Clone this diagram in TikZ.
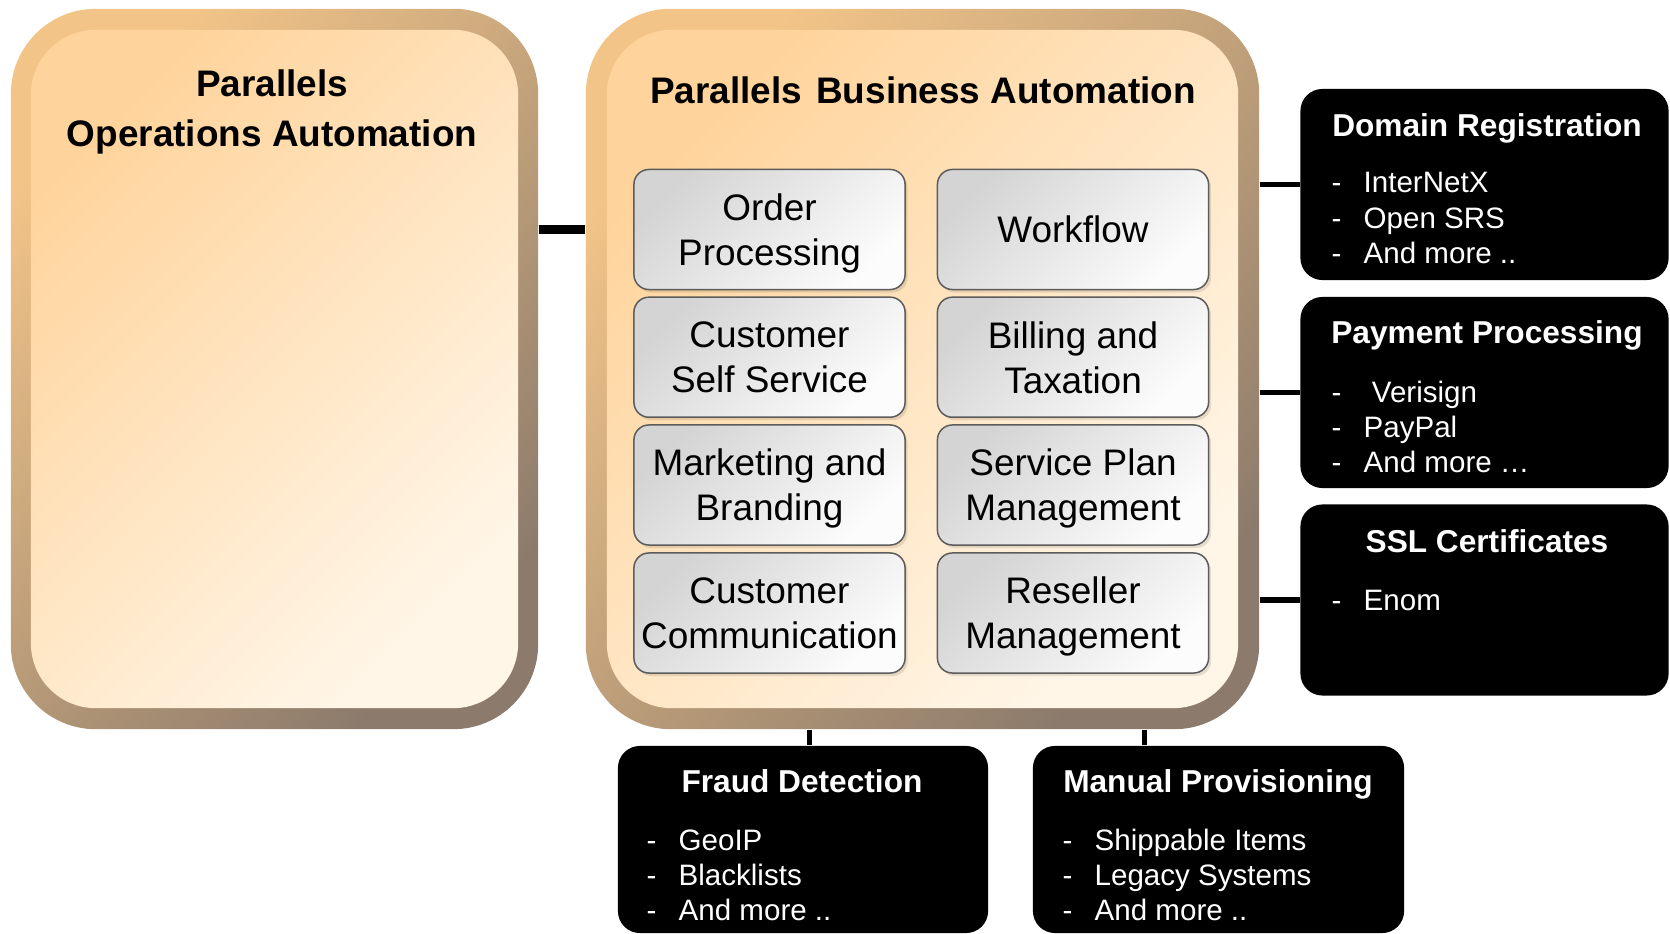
\documentclass[tikz,border=0pt]{standalone}
\usepackage{fontspec}
\setmainfont{Liberation Sans}
\usetikzlibrary{positioning,shadows}

\definecolor{ringtop}{HTML}{F2C488}
\definecolor{ringbot}{HTML}{8C7B6C}
\definecolor{paneltop}{HTML}{FFD49C}
\definecolor{panelbot}{HTML}{FFF6E8}
\definecolor{tiletop}{HTML}{D4D4D4}
\definecolor{tilebot}{HTML}{FCFCFC}
\definecolor{tileline}{HTML}{5C5C5C}

\tikzset{
  ring/.style={rounded corners=0.85cm, top color=ringtop, bottom color=ringbot, shading angle=45, inner sep=0},
  panel/.style={rounded corners=0.65cm, top color=paneltop, bottom color=panelbot, shading angle=45, inner sep=0},
  tile/.style={draw=tileline, line width=0.015cm, rounded corners=0.15cm, top color=tiletop, bottom color=tilebot, shading angle=45,
    minimum width=2.71cm, minimum height=1.2cm, inner sep=0.03cm, text depth=0pt, align=center, font=\fontsize{10.5}{12.8}\selectfont,
    drop shadow={shadow xshift=0.025cm, shadow yshift=-0.03cm, fill=black, opacity=0.1}},
  bigtitle/.style={align=center, font=\fontsize{10.5}{14.2}\selectfont\bfseries},
  blackbox/.style={fill=black, rounded corners=0.22cm, inner sep=0},
  head/.style={text=white, text depth=0pt, font=\fontsize{9}{10}\selectfont\bfseries},
  items/.style={text=white, align=left, inner sep=0, anchor=west, font=\fontsize{8.4}{9.96}\selectfont},
  link/.style={line width=0.05cm},
}
\newcommand{\itm}[1]{\makebox[0.32cm][l]{-}#1}

\begin{document}
\begin{tikzpicture}[x=0.01cm, y=-0.01cm]
  \useasboundingbox (0,0) rectangle (1670,934);

  % operations automation
  \node[ring, minimum width=5.27cm, minimum height=7.2cm] (poa) at (274.5,369) {};
  \node[panel, minimum width=4.87cm, minimum height=6.78cm] (poain) at (poa) {};
  \node[bigtitle] (poatitle) at (272,112) {Parallels\\Operations Automation};

  % business automation
  \node[ring, minimum width=6.73cm, minimum height=7.2cm] (pba) at (922.5,369) {};
  \node[panel, minimum width=6.31cm, minimum height=6.78cm] (pbain) at (pba) {};
  \node[bigtitle] (pbatitle) at (923,90) {Parallels\hspace{0.04cm} Business Automation};

  \node[tile] (order) at (769.5,229.5) {Order\\Processing};
  \node[tile] (workflow) at (1073,229.5) {Workflow};
  \node[tile] (selfserv) at (769.5,357.2) {Customer\\Self Service};
  \node[tile] (billing) at (1073,357.2) {Billing and\\Taxation};
  \node[tile] (marketing) at (769.5,485) {Marketing and\\Branding};
  \node[tile] (plans) at (1073,485) {Service Plan\\Management};
  \node[tile] (commun) at (769.5,613) {Customer\\Communication};
  \node[tile] (reseller) at (1073,613) {Reseller\\Management};

  % plug-ins on the right
  \node[blackbox, minimum width=3.68cm, minimum height=1.91cm] (domain) at (1484.5,184.5) {};
  \node[head] (domainhead) at (1487,125) {Domain Registration};
  \node[items] (domainlist) at (1331,218) {\itm{InterNetX}\\\itm{Open SRS}\\\itm{And more ..}};

  \node[blackbox, minimum width=3.68cm, minimum height=1.91cm] (payment) at (1484.5,392.5) {};
  \node[head] (paymenthead) at (1487,332) {Payment Processing};
  \node[items] (paymentlist) at (1331,427) {\itm{\ Verisign}\\\itm{PayPal}\\\itm{And more \dots}};

  \node[blackbox, minimum width=3.68cm, minimum height=1.91cm] (ssl) at (1484.5,600) {};
  \node[head] (sslhead) at (1487,541) {SSL Certificates};
  \node[items] (ssllist) at (1331,600) {\itm{Enom}};

  % plug-ins below
  \node[blackbox, minimum width=3.70cm, minimum height=1.87cm] (fraud) at (803,839.5) {};
  \node[head] (fraudhead) at (802,781) {Fraud Detection};
  \node[items] (fraudlist) at (646,875) {\itm{GeoIP}\\\itm{Blacklists}\\\itm{And more ..}};

  \node[blackbox, minimum width=3.71cm, minimum height=1.87cm] (manual) at (1218.5,839.5) {};
  \node[head] (manualhead) at (1218,781) {Manual Provisioning};
  \node[items] (manuallist) at (1062,875) {\itm{Shippable Items}\\\itm{Legacy Systems}\\\itm{And more ..}};

  % connectors
  \draw[line width=0.09cm] (poa.east |- order) -- (pba.west |- order);
  \draw[link] (pba.east |- domain) -- (domain.west);
  \draw[link] (pba.east |- payment) -- (payment.west);
  \draw[link] (pba.east |- ssl) -- (ssl.west);
  \draw[link] (809,0 |- pba.south) -- (809,0 |- fraud.north);
  \draw[link] (1144,0 |- pba.south) -- (1144,0 |- manual.north);
\end{tikzpicture}
\end{document}
